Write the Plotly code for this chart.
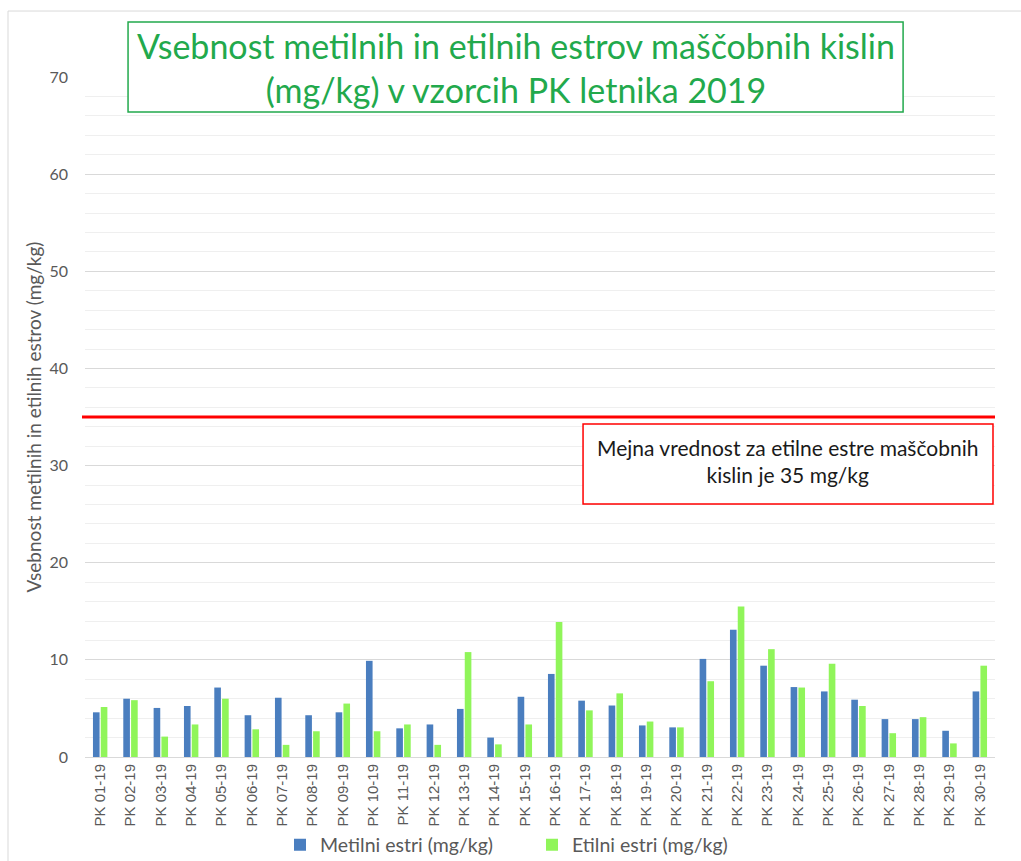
import plotly.graph_objects as go

# Sample labels
samples = [f"PK {i:02d}-19" for i in range(1, 31)]

# Methyl esters of fatty acids (mg/kg)
metilni = [4.6, 6.0, 5.05, 5.25, 7.15, 4.3, 6.1, 4.3, 4.6, 9.9,
           2.95, 3.35, 4.95, 2.0, 6.2, 8.55, 5.8, 5.3, 3.25, 3.05,
           10.1, 13.1, 9.4, 7.2, 6.75, 5.9, 3.9, 3.9, 2.7, 6.75]

# Ethyl esters of fatty acids (mg/kg)
etilni = [5.15, 5.85, 2.1, 3.35, 6.0, 2.85, 1.25, 2.65, 5.5, 2.65,
          3.35, 1.25, 10.8, 1.3, 3.35, 13.9, 4.8, 6.55, 3.65, 3.05,
          7.8, 15.5, 11.1, 7.15, 9.6, 5.25, 2.45, 4.1, 1.4, 9.4]

limit_value = 35

BLUE = "#4A7EBF"
GREEN = "#90F55A"
TITLE_GREEN = "#22A94C"

fig = go.Figure()
fig.add_trace(go.Bar(x=samples, y=metilni, name="Metilni estri (mg/kg)",
                     marker=dict(color=BLUE, line=dict(width=0))))
fig.add_trace(go.Bar(x=samples, y=etilni, name="Etilni estri (mg/kg)",
                     marker=dict(color=GREEN, line=dict(width=0))))

fig.update_layout(
    width=1021, height=861,
    margin=dict(l=85, r=26, t=77, b=104, autoexpand=False),
    paper_bgcolor="white", plot_bgcolor="white",
    barmode="group", bargap=0.486, bargroupgap=0.15,
    font=dict(family="Lato, Liberation Sans, sans-serif", color="#595959"),
    showlegend=True,
    legend=dict(orientation="h", x=(280 - 85) / 910, xanchor="left",
                y=(757 - 845) / 680, yanchor="middle",
                font=dict(size=19.5, color="#595959", family="Lato, sans-serif"),
                itemwidth=30, entrywidth=207, traceorder="normal",
                bgcolor="rgba(0,0,0,0)"),
    xaxis=dict(
        type="category", tickangle=-90, automargin=False,
        tickfont=dict(family="Liberation Sans, Arial, sans-serif", size=15, color="#595959"),
        showline=True, linecolor="#D9D9D9", linewidth=1,
        ticks="", showgrid=False,
    ),
    yaxis=dict(
        range=[0, 70], dtick=10, tick0=0, automargin=False,
        tickfont=dict(size=16, color="#595959"),
        gridcolor="#D9D9D9", gridwidth=1,
        zeroline=False, showline=False, ticks="",
        ticklabelstandoff=16,
        minor=dict(dtick=2, tick0=0, showgrid=True, gridcolor="#EFEFEF", gridwidth=1),
        title=dict(text="Vsebnost metilnih in etilnih estrov (mg/kg)",
                   font=dict(size=19, color="#595959"), standoff=2),
    ),
)

# Outer chart frame (top and left edges)
fig.add_shape(type="line", xref="paper", yref="paper",
              x0=-0.0846, x1=-0.0846, y0=-0.2, y1=1.097,
              line=dict(color="#D9D9D9", width=1))
fig.add_shape(type="line", xref="paper", yref="paper",
              x0=-0.0846, x1=1.05, y0=1.097, y1=1.097,
              line=dict(color="#D9D9D9", width=1))

# Limit line for ethyl esters
fig.add_shape(type="line", xref="paper", yref="y",
              x0=-0.0033, x1=1.0, y0=limit_value, y1=limit_value,
              line=dict(color="#FF0000", width=3))

# Title box
fig.add_shape(type="rect", xref="paper", yref="paper",
              x0=0.0473, x1=0.899, y0=0.9485, y1=1.0809,
              line=dict(color=TITLE_GREEN, width=1.5), fillcolor="white", layer="above")
fig.add_annotation(xref="paper", yref="paper", x=0.4733, y=1.0147,
                   xanchor="center", yanchor="middle",
                   text="Vsebnost metilnih in etilnih estrov maščobnih kislin<br>(mg/kg) v vzorcih PK letnika 2019",
                   showarrow=False, align="center",
                   font=dict(family="Lato, sans-serif", size=34, color=TITLE_GREEN))

# Limit value note box
fig.add_shape(type="rect", xref="paper", yref="paper",
              x0=0.5473, x1=0.9978, y0=0.372, y1=0.4897,
              line=dict(color="#FF0000", width=1.5), fillcolor="white", layer="above")
fig.add_annotation(xref="paper", yref="paper", x=0.7725, y=0.4353,
                   xanchor="center", yanchor="middle",
                   text="Mejna vrednost za etilne estre maščobnih<br>kislin je 35 mg/kg",
                   showarrow=False, align="center",
                   font=dict(family="Lato, sans-serif", size=21, color="#1A1A1A"))

fig.write_html("out.html")
